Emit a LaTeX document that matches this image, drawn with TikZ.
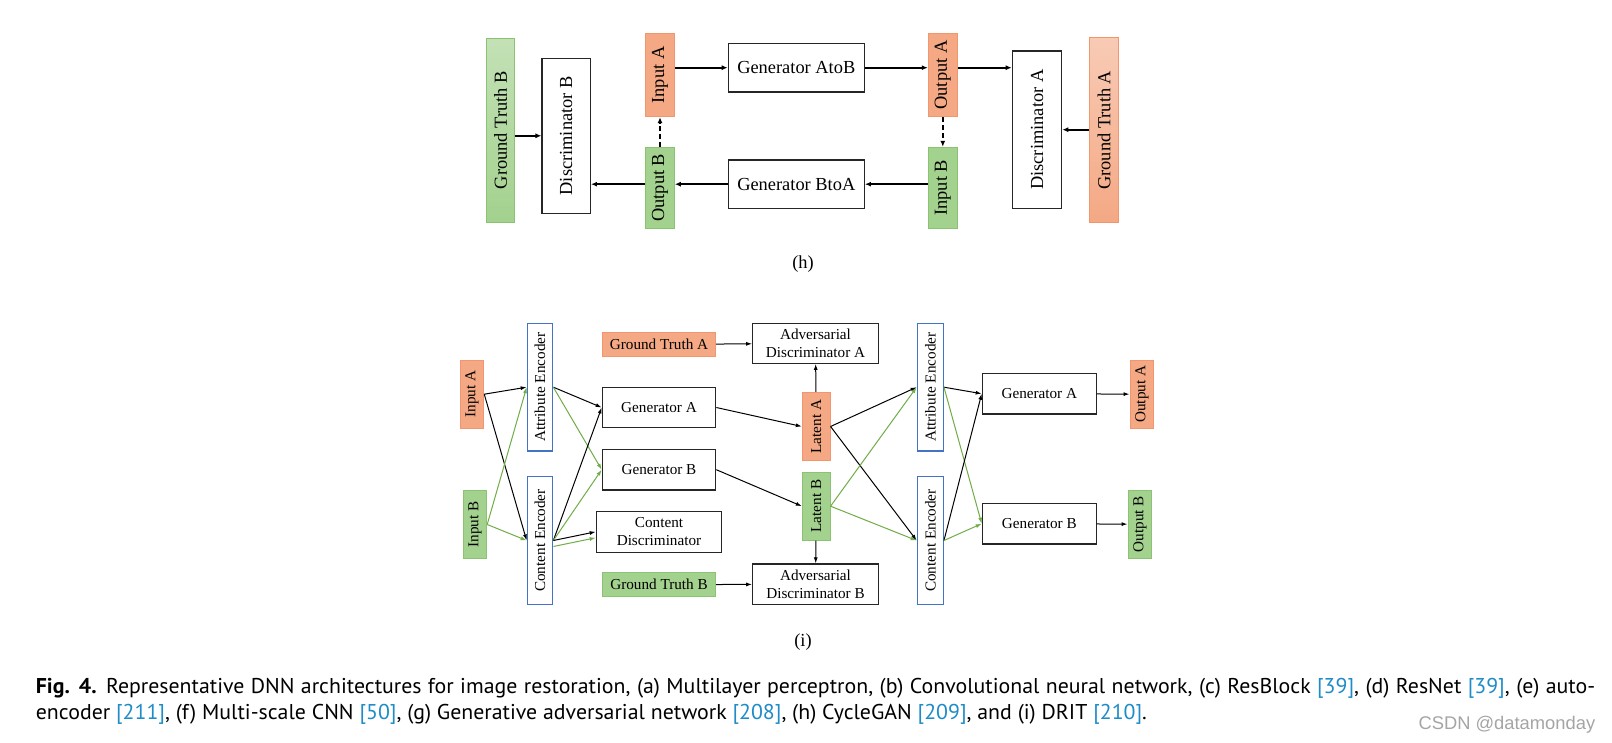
\documentclass[tikz,border=0pt]{standalone}
\usepackage{fontspec}
\setmainfont{Liberation Serif}
\newfontfamily\capfamily{PT Sans}
\newfontfamily\wmfamily{Liberation Sans}
\usetikzlibrary{arrows.meta}

\definecolor{orfill}{RGB}{244,168,132}
\definecolor{ordraw}{RGB}{241,150,110}
\definecolor{grfill}{RGB}{163,209,142}
\definecolor{grdraw}{RGB}{140,195,115}
\definecolor{encblue}{RGB}{68,114,196}
\definecolor{arrgreen}{RGB}{112,173,71}
\definecolor{refblue}{RGB}{30,140,200}
\definecolor{wmgray}{RGB}{165,165,165}

\newcommand\topfs{\fontsize{18.4}{22}\selectfont}
\newcommand\botfs{\fontsize{15.2}{18.3}\selectfont}
\newcommand\capfs{\capfamily\fontsize{21.4}{26}\selectfont}
\newcommand\refno[1]{\textcolor{refblue}{[#1]}}
\newcommand\capone{\textbf{Fig. 4.} Representative DNN architectures for image restoration, (a) Multilayer perceptron, (b) Convolutional neural network, (c) ResBlock \refno{39}, (d) ResNet \refno{39}, (e) auto-}
\newcommand\captwo{encoder \refno{211}, (f) Multi-scale CNN \refno{50}, (g) Generative adversarial network \refno{208}, (h) CycleGAN \refno{209}, and (i) DRIT \refno{210}.}
\newlength\capwd

\begin{document}
% caption is squeezed to the printed width
\settowidth\capwd{\capfs\captwo}
\pgfmathsetmacro\capsx{1111/\capwd}
\pgfmathsetmacro\capw{1559.3/\capsx}
\begin{tikzpicture}[x=1pt, y=-1pt,
    every node/.style={inner sep=0pt},
    boxw/.style={draw=black!85, line width=1.2pt, fill=white},
    boxa/.style={draw=ordraw, line width=1pt, fill=orfill},
    boxb/.style={draw=grdraw, line width=1pt, fill=grfill},
    enc/.style={draw=encblue, line width=1.3pt, fill=white},
    harr/.style={line width=2.2pt, -{Latex[length=6pt,width=5pt]}},
    darr/.style={harr, line width=1.8pt, dash pattern=on 5pt off 3pt},
    karr/.style={line width=1pt, -{Latex[length=6pt,width=4pt]}},
    garr/.style={karr, arrgreen}]
  \path[use as bounding box, fill=white] (0,0) rectangle (1612,743);

  % (h) CycleGAN
  \node[draw=grdraw, line width=1pt, top color=grfill!65!white, bottom color=grfill, minimum width=27.6pt, minimum height=184pt, font=\topfs] (gtB) at (500.5,130.3) {\rotatebox{90}{Ground Truth B}};
  \node[boxw, minimum width=48.3pt, minimum height=155pt, font=\topfs] (discB) at (566.2,135.8) {\rotatebox{90}{Discriminator B}};
  \node[boxa, minimum width=28.6pt, minimum height=83.4pt, font=\topfs] (inA) at (660,75) {\rotatebox{90}{Input A}};
  \node[boxb, minimum width=28.6pt, minimum height=81pt, font=\topfs] (outB) at (660,187.8) {\rotatebox{90}{Output B}};
  \node[boxw, minimum width=136pt, minimum height=48.7pt, font=\topfs] (genAB) at (796.3,67.7) {Generator AtoB};
  \node[boxw, minimum width=136pt, minimum height=48.3pt, font=\topfs] (genBA) at (796.3,184.2) {Generator BtoA};
  \node[boxa, minimum width=29pt, minimum height=83.4pt, font=\topfs] (outA) at (942.8,75) {\rotatebox{90}{Output A}};
  \node[boxb, minimum width=29pt, minimum height=81pt, font=\topfs] (inB) at (942.8,187.8) {\rotatebox{90}{Input B}};
  \node[boxw, minimum width=49.4pt, minimum height=157.3pt, font=\topfs] (discA) at (1037,129.7) {\rotatebox{90}{Discriminator A}};
  \node[draw=ordraw, line width=1pt, top color=orfill!60!white, bottom color=orfill, minimum width=28.6pt, minimum height=185pt, font=\topfs] (gtA) at (1104,130.2) {\rotatebox{90}{Ground Truth A}};

  \draw[harr] (genAB.west -| inA.east) -- (genAB.west);
  \draw[harr] (genAB.east) -- (genAB.east -| outA.west);
  \draw[harr] (genAB.east -| outA.east) -- (genAB.east -| discA.west);
  \draw[harr] (genBA.east -| inB.west) -- (genBA.east);
  \draw[harr] (genBA.west) -- (genBA.west -| outB.east);
  \draw[harr] (genBA.west -| outB.west) -- (genBA.west -| discB.east);
  \draw[harr] (discB.west -| gtB.east) -- (discB.west);
  \draw[harr] (discA.east -| gtA.west) -- (discA.east);
  \draw[darr] (outB.north) -- (inA.south);
  \draw[darr] (outA.south -| inB.north) -- (inB.north);

  \node[font=\topfs, anchor=base] (labh) at (803,268.3) {(h)};

  % (i) DRIT
  \node[boxa, minimum width=23.7pt, minimum height=68.3pt, font=\botfs] (inA2) at (471.9,394.2) {\rotatebox{90}{Input A}};
  \node[boxb, minimum width=23.4pt, minimum height=67.6pt, font=\botfs] (inB2) at (475,524.5) {\rotatebox{90}{Input B}};
  \node[enc, minimum width=25.4pt, minimum height=127.7pt, font=\botfs] (attL) at (540,387.2) {\rotatebox{90}{Attribute Encoder}};
  \node[enc, minimum width=25.4pt, minimum height=127.6pt, font=\botfs] (conL) at (540,540.5) {\rotatebox{90}{Content Encoder}};
  \node[boxa, minimum width=113.4pt, minimum height=24.4pt, font=\botfs] (gtA2) at (659,344.5) {Ground Truth A};
  \node[boxw, minimum width=125.6pt, minimum height=40pt, font=\botfs, align=center] (advA) at (815.5,343.3) {Adversarial\\Discriminator A};
  \node[boxw, minimum width=113.4pt, minimum height=40.4pt, font=\botfs] (genA1) at (659,407.5) {Generator A};
  \node[boxw, minimum width=113.4pt, minimum height=40.7pt, font=\botfs] (genB1) at (659,469.7) {Generator B};
  \node[boxw, minimum width=125.4pt, minimum height=41pt, font=\botfs, align=center] (conD) at (659,531.8) {Content\\Discriminator};
  \node[boxb, minimum width=113.4pt, minimum height=24pt, font=\botfs] (gtB2) at (659,584.7) {Ground Truth B};
  \node[boxw, minimum width=125.6pt, minimum height=40.3pt, font=\botfs, align=center] (advB) at (815.5,584.2) {Adversarial\\Discriminator B};
  \node[boxa, minimum width=27.7pt, minimum height=68.4pt, font=\botfs] (latA) at (816.2,426.5) {\rotatebox{90}{Latent A}};
  \node[boxb, minimum width=27.7pt, minimum height=67.7pt, font=\botfs] (latB) at (816.2,506.2) {\rotatebox{90}{Latent B}};
  \node[enc, minimum width=26pt, minimum height=127.7pt, font=\botfs] (attR) at (930.3,387.2) {\rotatebox{90}{Attribute Encoder}};
  \node[enc, minimum width=26pt, minimum height=127.6pt, font=\botfs] (conR) at (930.3,540.5) {\rotatebox{90}{Content Encoder}};
  \node[boxw, minimum width=114pt, minimum height=40.7pt, font=\botfs] (genA2) at (1039.3,393.7) {Generator A};
  \node[boxw, minimum width=114pt, minimum height=40.7pt, font=\botfs] (genB2) at (1039.3,523.7) {Generator B};
  \node[boxa, minimum width=23.7pt, minimum height=68.3pt, font=\botfs] (outA2) at (1141.9,394.2) {\rotatebox{90}{Output A}};
  \node[boxb, minimum width=23.7pt, minimum height=68.3pt, font=\botfs] (outB2) at (1139.9,524.2) {\rotatebox{90}{Output B}};

  \draw[karr] (inA2.east) -- (attL.west);
  \draw[karr] (inA2.east) -- (conL.west);
  \draw[garr] (inB2.east) -- (attL.west);
  \draw[garr] (inB2.east) -- (conL.west);
  \draw[karr] (attL.east) -- (genA1.west);
  \draw[garr] (attL.east) -- (genB1.west);
  \draw[karr] (conL.east) -- (genA1.west);
  \draw[garr] (conL.east) -- (genB1.west);
  \draw[karr] (conL.east) -- (conD.west);
  \draw[garr] ([yshift=-6pt]conL.east) -- ([yshift=-6pt]conD.west);
  \draw[karr] (gtA2) -- (advA);
  \draw[karr] (gtB2) -- (advB);
  \draw[karr] (latA) -- (advA);
  \draw[karr] (latB) -- (advB);
  \draw[karr] (genA1.east) -- (latA.west);
  \draw[karr] (genB1.east) -- (latB.west);
  \draw[karr] (latA.east) -- (attR.west);
  \draw[karr] (latA.east) -- (conR.west);
  \draw[garr] (latB.east) -- (attR.west);
  \draw[garr] (latB.east) -- (conR.west);
  \draw[karr] (attR.east) -- (genA2.west);
  \draw[garr] (attR.east) -- (genB2.west);
  \draw[karr] (conR.east) -- (genA2.west);
  \draw[garr] (conR.east) -- (genB2.west);
  \draw[karr] (genA2) -- (outA2);
  \draw[karr] (genB2) -- (outB2);

  \node[font=\topfs, anchor=base] (labi) at (803,646) {(i)};

  % caption
  \node[font=\capfs, anchor=base west] (cap1) at (35.7,693.3) {\scalebox{\capsx}[1]{\makebox[\capw pt][s]{\capone}}};
  \node[font=\capfs, anchor=base west] (cap2) at (35.7,719.3) {\scalebox{\capsx}[1]{\captwo}};

  \node[font=\wmfamily\fontsize{18.35}{20}\selectfont, text=wmgray, anchor=base west] (wm) at (1418.3,729.3) {CSDN @datamonday};
\end{tikzpicture}
\end{document}
